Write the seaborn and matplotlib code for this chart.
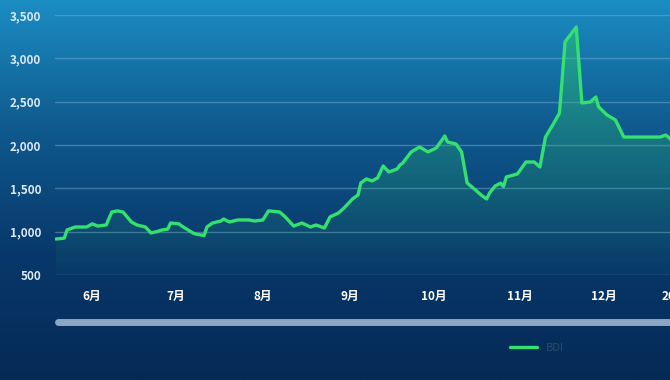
import seaborn as sns
import pandas as pd
import numpy as np
import matplotlib.pyplot as plt
from matplotlib.lines import Line2D
from matplotlib.colors import LinearSegmentedColormap
from matplotlib.ticker import FuncFormatter

# BDI 指数, 天数以 6月1日 为 0
dias = [-13, -10, -9, -6, -2, 0, 2, 5, 7, 9, 11, 14, 16, 19, 21, 23, 25, 27, 28, 31,
        32, 36, 37, 40, 41, 43, 46, 47, 49, 52, 56, 58, 61, 63, 67, 69, 72, 75, 78, 80,
        83, 85, 88, 90, 93, 95, 96, 98, 100, 102, 104, 106, 109, 110, 111, 114, 117, 120, 123, 126,
        127, 130, 132, 134, 137, 139, 141, 142, 144, 146, 147, 148, 152, 155, 158, 160, 162, 165, 167, 169,
        173, 175, 178, 180, 181, 184, 187, 190, 203, 205, 207]
bdi = [915, 925, 1020, 1054, 1054, 1090, 1065, 1077, 1227, 1240, 1227, 1112, 1077, 1054, 985, 1000, 1020, 1030, 1100, 1090,
       1065, 985, 973, 955, 1054, 1100, 1123, 1146, 1112, 1135, 1135, 1123, 1135, 1240, 1227, 1170, 1065, 1100, 1054, 1077,
       1042, 1170, 1215, 1273, 1377, 1423, 1562, 1608, 1585, 1620, 1758, 1689, 1723, 1770, 1792, 1920, 1977, 1920, 1966, 2104,
       2035, 2012, 1920, 1562, 1481, 1423, 1377, 1446, 1527, 1560, 1520, 1631, 1666, 1804, 1804, 1746, 2092, 2254, 2369, 3189,
       3362, 2485, 2496, 2554, 2439, 2346, 2289, 2092, 2092, 2115, 2058]

meses = ['6月', '7月', '8月', '9月', '10月', '11月', '12月']
inicio_meses = ['2020-06-01', '2020-07-01', '2020-08-01', '2020-09-01', '2020-10-01',
                '2020-11-01', '2020-12-01']
rotulo_ano = '2021年1月'
inicio_ano = '2021-01-01'

base = pd.Timestamp('2020-06-01')
df = pd.DataFrame({'dia': dias, 'BDI': bdi})
pos_meses = [(pd.Timestamp(m) - base).days for m in inicio_meses]
pos_ano = (pd.Timestamp(inicio_ano) - base).days

sns.set_style('white')
plt.rcParams['font.family'] = ['Noto Sans CJK SC', 'DejaVu Sans']

fig = plt.figure(figsize=(6.7, 3.8), dpi=100)

# fundo em degradê
fundo = fig.add_axes([0, 0, 1, 1], zorder=0)
cmap_fundo = LinearSegmentedColormap.from_list('bg', ['#1b8dc3', '#0f5a8e', '#08386b', '#052a55'])
fundo.imshow(np.linspace(0, 1, 256).reshape(-1, 1), aspect='auto', cmap=cmap_fundo,
             extent=[0, 1, 0, 1], origin='upper')
fundo.axis('off')

ax = fig.add_axes([55 / 670, 1 - 275 / 380, 1 - 55 / 670, 260 / 380], zorder=1)
ax.set_facecolor('none')

ymin, ymax = 500, 3500
xmin, xmax = -13.3, 206.5

# preenchimento verde em degradê sob a linha
area = ax.fill_between(df['dia'], df['BDI'], ymin, color='none', lw=0)
cmap_area = LinearSegmentedColormap.from_list('area', [(0.18, 0.80, 0.45, 0.55), (0.15, 0.65, 0.45, 0.05)])
grad = ax.imshow(np.linspace(0, 1, 256).reshape(-1, 1), aspect='auto', cmap=cmap_area,
                 extent=[xmin, xmax, ymin, ymax], origin='upper', zorder=2)
grad.set_clip_path(area.get_paths()[0], transform=ax.transData)

sns.lineplot(data=df, x='dia', y='BDI', ax=ax, color='#34e06e', lw=2.4, label='BDI', zorder=3)

ax.set_yticks([500, 1000, 1500, 2000, 2500, 3000, 3500])
ax.yaxis.set_major_formatter(FuncFormatter(lambda v, p: f'{int(v):,}'))
ax.set_xticks(pos_meses)
ax.set_xticklabels(meses)
# set_xticks alarga os limites, então define depois
ax.set_xlim(xmin, xmax)
ax.set_ylim(ymin, ymax)
ax.grid(axis='y', color='#7fb4d6', alpha=0.45, lw=1)
ax.grid(axis='x', visible=False)
for s in ax.spines.values():
    s.set_visible(False)
ax.tick_params(axis='x', length=0, pad=11, labelsize=8.5, labelcolor='white')
ax.tick_params(axis='y', length=0, pad=10, labelsize=8.5, labelcolor='#dbe9f3')
for t in ax.get_xticklabels() + ax.get_yticklabels():
    t.set_fontweight('bold')
ax.set_xlabel('')
ax.set_ylabel('')

# rótulo do ano, fora do limite do eixo (cortado na borda como no original)
ax.annotate(rotulo_ano, xy=(pos_ano, 0), xycoords=ax.get_xaxis_transform(),
            xytext=(0, -11), textcoords='offset points', ha='center', va='top',
            fontsize=8.5, fontweight='bold', color='white', annotation_clip=False)

# barra de rolagem
fig.add_artist(Line2D([58 / 670, 1.01], [1 - 322 / 380] * 2, color='#8aa7c4', lw=5,
                      solid_capstyle='round'))

leg = ax.legend(loc='center left', bbox_to_anchor=(500 / 670, 1 - 348 / 380),
                bbox_transform=fig.transFigure, frameon=False, fontsize=8,
                handlelength=2.4, labelcolor='#2c4a6b')

fig.savefig('out.png', dpi=100)
